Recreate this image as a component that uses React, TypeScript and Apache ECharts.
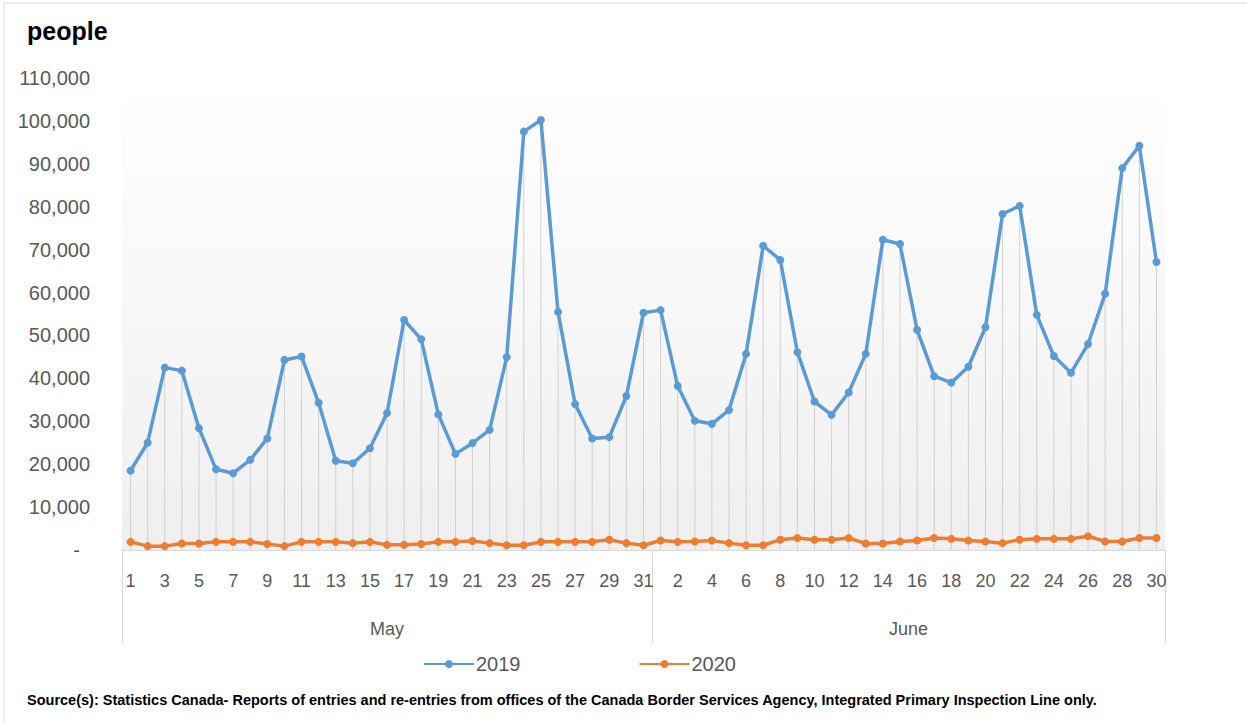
import React, { useEffect, useRef } from "react";
import * as echarts from "echarts";

const mayDays = ["1","2","3","4","5","6","7","8","9","10","11","12","13","14","15","16","17","18","19","20","21","22","23","24","25","26","27","28","29","30","31"];
const juneDays = ["1","2","3","4","5","6","7","8","9","10","11","12","13","14","15","16","17","18","19","20","21","22","23","24","25","26","27","28","29","30"];
const months = ["May", "June"];

const values2019May = [18500, 25000, 42500, 41800, 28400, 18800, 17900, 21000, 26000, 44300, 45100, 34300, 20800, 20200, 23700, 31900, 53600, 49100, 31600, 22400, 24900, 28000, 44900, 97500, 100200, 55500, 34000, 26000, 26300, 35900, 55300];
const values2019June = [55900, 38200, 30100, 29400, 32600, 45700, 70900, 67600, 46100, 34600, 31500, 36700, 45700, 72300, 71300, 51300, 40500, 39000, 42700, 51900, 78300, 80200, 54800, 45200, 41300, 48000, 59700, 89000, 94200, 67100];
const values2020May = [1900, 900, 900, 1500, 1500, 1900, 1900, 1900, 1400, 900, 1900, 1900, 1900, 1600, 1900, 1200, 1200, 1400, 1900, 1900, 2100, 1600, 1100, 1100, 1900, 1900, 1900, 1900, 2400, 1600, 1100];
const values2020June = [2200, 1900, 2000, 2200, 1600, 1100, 1100, 2400, 2800, 2400, 2400, 2800, 1500, 1500, 2000, 2200, 2800, 2600, 2200, 2000, 1600, 2400, 2600, 2600, 2600, 3200, 2000, 2000, 2800, 2800];

const yTicks = [0, 10000, 20000, 30000, 40000, 50000, 60000, 70000, 80000, 90000, 100000, 110000];
const seriesNames = ["2019", "2020"];
const yTitle = "people";
const sourceText = "Source(s): Statistics Canada- Reports of entries and re-entries from offices of the Canada Border Services Agency, Integrated Primary Inspection Line only.";

export default function App() {
  const ref = useRef<HTMLDivElement>(null);
  useEffect(() => {
    if (!ref.current) return;
    const chart = echarts.init(ref.current, null, { renderer: "svg" });
    const categories = [
      ...mayDays.map((d) => months[0] + " " + d),
      ...juneDays.map((d) => months[1] + " " + d),
    ];
    const v2019 = [...values2019May, ...values2019June];
    const v2020 = [...values2020May, ...values2020June];
    const drop = v2019.map((v, i) => Math.max(v, v2020[i]));
    const nDays = categories.length;
    const font = "Liberation Sans";

    chart.setOption({
      animation: false,
      backgroundColor: "#ffffff",
      textStyle: { fontFamily: font },
      grid: {
        left: 122,
        right: 82,
        top: 78,
        bottom: 173,
        show: true,
        borderWidth: 0,
        backgroundColor: new echarts.graphic.LinearGradient(0, 0, 0, 1, [
          { offset: 0, color: "#ffffff" },
          { offset: 1, color: "#efefef" },
        ]),
      },
      legend: {
        data: seriesNames,
        left: 418,
        top: 649,
        itemGap: 118,
        itemWidth: 50,
        itemHeight: 10,
        textStyle: { fontSize: 20, color: "#595959", fontFamily: font, padding: [0, 0, 0, -3] },
      },
      xAxis: [
        {
          type: "category",
          data: categories,
          boundaryGap: true,
          axisLine: { show: true, lineStyle: { color: "#d9d9d9", width: 1 } },
          axisTick: { show: false },
          axisLabel: {
            interval: 1,
            margin: 22,
            fontSize: 18,
            color: "#595959",
            fontFamily: font,
            formatter: (v: string) => v.split(" ")[1],
          },
          splitLine: { show: false },
        },
        {
          type: "value",
          position: "bottom",
          min: 0,
          max: nDays,
          axisLine: { show: false },
          splitLine: { show: false },
          axisTick: {
            show: true,
            customValues: [0, mayDays.length, nDays],
            length: 93,
            lineStyle: { color: "#d9d9d9", width: 1 },
          },
          axisLabel: {
            show: true,
            customValues: [mayDays.length / 2, mayDays.length + juneDays.length / 2],
            margin: 70,
            fontSize: 18,
            color: "#595959",
            fontFamily: font,
            formatter: (v: number) => (v < mayDays.length ? months[0] : months[1]),
          },
        },
      ],
      yAxis: {
        type: "value",
        min: 0,
        max: yTicks[yTicks.length - 1],
        interval: yTicks[1] - yTicks[0],
        axisLine: { show: false },
        axisTick: { show: false },
        splitLine: { show: false },
        axisLabel: {
          margin: 32,
          fontSize: 20,
          color: "#595959",
          fontFamily: font,
          formatter: (v: number) => (v === 0 ? "{d|-}" : v.toLocaleString("en-US")),
          rich: { d: { fontSize: 20, color: "#595959", padding: [0, 10, 0, 0], fontFamily: font } },
        },
      },
      series: [
        {
          name: "drop",
          type: "bar",
          data: drop,
          barWidth: 1,
          silent: true,
          itemStyle: { color: "#d0d0d0" },
          z: 1,
        },
        {
          name: seriesNames[0],
          type: "line",
          data: v2019,
          symbol: "circle",
          symbolSize: 8,
          lineStyle: { color: "#5b9bd5", width: 3.5 },
          itemStyle: { color: "#5b9bd5" },
          z: 3,
        },
        {
          name: seriesNames[1],
          type: "line",
          data: v2020,
          symbol: "circle",
          symbolSize: 8,
          lineStyle: { color: "#ed7d31", width: 3.5 },
          itemStyle: { color: "#ed7d31" },
          z: 4,
        },
      ],
      graphic: [
        {
          type: "rect",
          shape: { x: 4, y: 3, width: 1260, height: 740 },
          style: { fill: "none", stroke: "#d9d9d9", lineWidth: 1 },
          silent: true,
        },
        {
          type: "text",
          left: 27,
          top: 18,
          style: { text: yTitle, font: "bold 25px 'Liberation Sans'", fill: "#000000" },
        },
        {
          type: "text",
          left: 27,
          top: 692,
          style: { text: sourceText, font: "bold 14.5px 'Liberation Sans'", fill: "#000000" },
        },
      ],
    });
    return () => chart.dispose();
  }, []);
  return <div ref={ref} style={{ position: "fixed", left: 0, top: 0, width: 1247, height: 723 }} />;
}
